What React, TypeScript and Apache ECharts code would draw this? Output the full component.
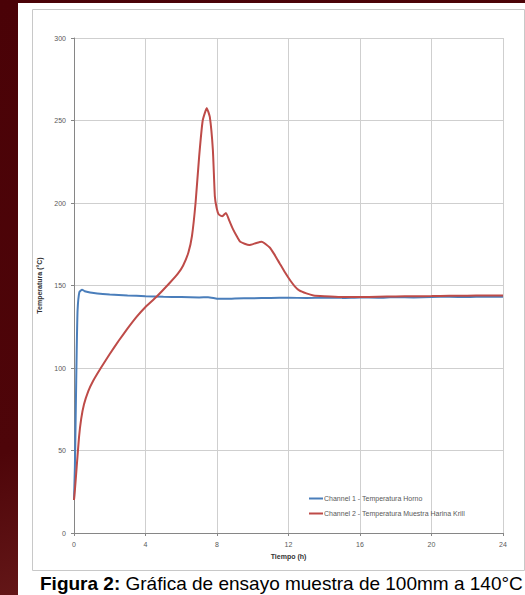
import React, { useEffect, useRef } from "react";
import * as echarts from "echarts";

const xTicks = [0, 4, 8, 12, 16, 20, 24];
const yTicks = [0, 50, 100, 150, 200, 250, 300];

const channel1Name = "Channel 1 - Temperatura Horno";
const channel2Name = "Channel 2 - Temperatura Muestra Harina Krill";

const channel1: [number, number][] = [
  [0, 20], [0.05, 40], [0.1, 75], [0.15, 110], [0.2, 135], [0.3, 146], [0.45, 147.5],
  [0.6, 146.5], [0.9, 145.8], [1.3, 145.2], [2, 144.6], [3, 144], [4, 143.5], [5, 143.2],
  [6, 143], [7, 142.8], [7.5, 142.9], [8, 142], [8.5, 141.9], [9, 142.1], [10, 142.3],
  [11, 142.4], [12, 142.6], [13, 142.4], [14, 142.6], [15, 142.5], [16, 142.8],
  [17, 142.6], [18, 143], [19, 142.8], [20, 143], [21, 143.2], [22, 143], [23, 143.3], [24, 143.2],
];

const channel2: [number, number][] = [
  [0, 20], [0.05, 26], [0.15, 40], [0.28, 58], [0.4, 69], [0.56, 78], [0.8, 86], [1.06, 92],
  [1.5, 100], [2, 108.5], [2.5, 116.5], [3, 124], [3.5, 131], [4, 137], [4.6, 143], [5.35, 151.5],
  [5.8, 157], [6.1, 162], [6.4, 170], [6.6, 180], [6.8, 200], [7.0, 228], [7.2, 250], [7.43, 257.5],
  [7.6, 252], [7.77, 232], [7.88, 204], [7.98, 197], [8.1, 193], [8.3, 192], [8.5, 194],
  [8.7, 189], [8.9, 184], [9.1, 180], [9.3, 176.5], [9.8, 174.5], [10.2, 175.8],
  [10.5, 176.5], [10.95, 173], [11.2, 169], [11.5, 163.5], [11.8, 158], [12.1, 153], [12.35, 149.5],
  [12.6, 147], [13, 145.2], [13.4, 144], [14, 143.5], [14.9, 143], [16, 143], [17, 143.2],
  [18, 143.4], [19, 143.5], [20, 143.6], [21, 143.8], [22, 143.8], [23, 144], [24, 144],
];

const caption = "{b|Figura 2:} Gráfica de ensayo muestra de 100mm a 140°C";

export default function App() {
  const ref = useRef<HTMLDivElement>(null);
  useEffect(() => {
    if (!ref.current) return;
    const chart = echarts.init(ref.current, null, { renderer: "svg" });
    const font = "Liberation Sans, Arial, sans-serif";
    const labelStyle = { fontSize: 7, color: "#595959", fontFamily: font };
    chart.setOption({
      animation: false,
      backgroundColor: {
        type: "linear", x: 0, y: 0, x2: 0.3, y2: 1,
        colorStops: [
          { offset: 0, color: "#4a0207" },
          { offset: 0.7, color: "#4e0509" },
          { offset: 1, color: "#6a1c1c" },
        ],
      },
      graphic: [
        { type: "rect", z: -10, shape: { x: 18, y: 3, width: 507, height: 592 }, style: { fill: "#ffffff" } },
        { type: "rect", z: -9, shape: { x: 32.5, y: 9.5, width: 492, height: 561 }, style: { fill: "#ffffff", stroke: "#c8c8c8", lineWidth: 1 } },
        {
          type: "text", x: 40, y: 574,
          style: {
            text: caption,
            fontSize: 19, fill: "#000", fontFamily: font,
            rich: { b: { fontWeight: "bold", fontSize: 19, fontFamily: font, fill: "#000" } },
          },
        },
      ],
      grid: { left: 74, right: 22, top: 38, bottom: 62 },
      legend: {
        orient: "vertical",
        left: 304, top: 490,
        itemWidth: 14, itemHeight: 2, itemGap: 8,
        icon: "rect",
        textStyle: { ...labelStyle, padding: [0, 0, 0, -4] },
        data: [channel1Name, channel2Name],
      },
      xAxis: {
        type: "value", min: 0, max: 24, interval: 4,
        name: "Tiempo (h)", nameLocation: "middle", nameGap: 20,
        nameTextStyle: { ...labelStyle, fontWeight: "bold", color: "#333" },
        axisLine: { lineStyle: { color: "#868686" } },
        axisTick: { show: true, length: 3, lineStyle: { color: "#868686" } },
        axisLabel: { ...labelStyle, margin: 8, formatter: (v: number) => (xTicks.includes(v) ? String(v) : "") },
        splitLine: { show: true, lineStyle: { color: "#cfcfcf", width: 1 } },
      },
      yAxis: {
        type: "value", min: 0, max: 300, interval: 50,
        name: "Temperatura (°C)", nameLocation: "middle", nameGap: 30, nameRotate: 90,
        nameTextStyle: { ...labelStyle, fontWeight: "bold", color: "#333" },
        axisLine: { show: true, lineStyle: { color: "#868686" } },
        axisTick: { show: true, length: 3, lineStyle: { color: "#868686" } },
        axisLabel: { ...labelStyle, margin: 8, formatter: (v: number) => (yTicks.includes(v) ? String(v) : "") },
        splitLine: { show: true, lineStyle: { color: "#cfcfcf", width: 1 } },
      },
      series: [
        {
          name: channel1Name, type: "line", data: channel1, showSymbol: false, symbol: "none",
          smooth: 0.15,
          lineStyle: { color: "#4a7ebb", width: 2 }, itemStyle: { color: "#4a7ebb" }, z: 2,
        },
        {
          name: channel2Name, type: "line", data: channel2, showSymbol: false, symbol: "none",
          smooth: 0.15,
          lineStyle: { color: "#be4b48", width: 2 }, itemStyle: { color: "#be4b48" }, z: 3,
        },
      ],
    });
    return () => chart.dispose();
  }, []);
  return <div ref={ref} style={{ position: "fixed", left: 0, top: 0, width: 525, height: 595 }} />;
}
